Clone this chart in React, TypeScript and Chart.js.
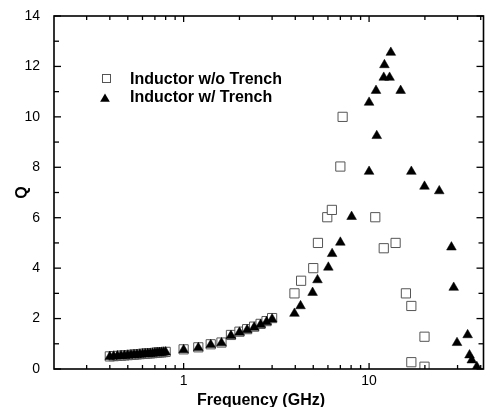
import React, { useEffect, useRef } from 'react';
import { Chart, registerables } from 'chart.js';

Chart.register(...registerables);

const FONT = '"Liberation Sans", Arial, Helvetica, sans-serif';

// Inductor w/o Trench (open squares)
const noTrenchFreq = [
  0.40, 0.42, 0.44, 0.46, 0.48, 0.50, 0.52, 0.54, 0.56, 0.58, 0.60, 0.62, 0.64, 0.66, 0.68, 0.70, 0.72, 0.74, 0.76, 0.78, 0.80,
  1.0, 1.2, 1.4, 1.6, 1.8, 2.0, 2.2, 2.4, 2.6, 2.8, 3.0,
  3.96, 4.3, 5.0, 5.3, 5.95, 6.3, 7.0, 7.2, 10.8, 12.0, 13.9, 15.8, 16.9, 19.9, 16.9, 19.9,
];
const noTrenchQ = [
  0.50, 0.51, 0.52, 0.53, 0.54, 0.55, 0.56, 0.57, 0.58, 0.59, 0.60, 0.61, 0.62, 0.62, 0.63, 0.64, 0.65, 0.66, 0.66, 0.67, 0.68,
  0.78, 0.86, 0.98, 1.05, 1.35, 1.48, 1.58, 1.68, 1.79, 1.90, 2.02,
  3.0, 3.5, 4.0, 5.0, 6.02, 6.31, 8.03, 10.0, 6.02, 4.79, 5.0, 3.0, 2.5, 1.28, 0.27, 0.09,
];

// Inductor w/ Trench (filled triangles)
const trenchFreq = [
  0.40, 0.42, 0.44, 0.46, 0.48, 0.50, 0.52, 0.54, 0.56, 0.58, 0.60, 0.62, 0.64, 0.66, 0.68, 0.70, 0.72, 0.74, 0.76, 0.78, 0.80,
  1.0, 1.2, 1.4, 1.6, 1.8, 2.0, 2.2, 2.4, 2.6, 2.8, 3.0,
  3.96, 4.27, 4.96, 5.27, 6.03, 6.32, 7.0, 8.05, 10.0, 11.0, 10.0, 10.9, 12.0, 12.9, 12.1, 13.1, 14.8,
  16.9, 19.9, 23.9, 27.8, 28.6, 29.8, 34.0, 34.8, 35.8, 38.1,
];
const trenchQ = [
  0.49, 0.50, 0.51, 0.52, 0.53, 0.54, 0.55, 0.56, 0.57, 0.58, 0.59, 0.60, 0.61, 0.61, 0.62, 0.63, 0.64, 0.65, 0.65, 0.66, 0.67,
  0.76, 0.84, 0.96, 1.03, 1.32, 1.45, 1.55, 1.65, 1.76, 1.87, 1.98,
  2.2, 2.5, 3.03, 3.53, 4.03, 4.57, 5.02, 6.04, 7.83, 9.25, 10.57, 11.04, 11.56, 11.56, 12.06, 12.55, 11.04,
  7.83, 7.24, 7.06, 4.83, 3.23, 1.04, 1.35, 0.55, 0.35, 0.09,
];

const seriesLabels = ['Inductor w/o Trench', 'Inductor w/ Trench'];

const xMajorTicks = [1, 10];
const xMinorTicks = [0.3, 0.4, 0.5, 0.6, 0.7, 0.8, 0.9, 2, 3, 4, 5, 6, 7, 8, 9, 20, 30, 40];
const yMajorTicks = [0, 2, 4, 6, 8, 10, 12, 14];
const yMinorTicks = [1, 3, 5, 7, 9, 11, 13];

const toPoints = (xs: number[], ys: number[]) => xs.map((x, i) => ({ x, y: ys[i] }));

const framePlugin = {
  id: 'frameTicks',
  afterDatasetsDraw(chart: any) {
    const { ctx, chartArea: a, scales } = chart;
    const xs = scales.x;
    const ys = scales.y;
    ctx.save();
    ctx.strokeStyle = '#000';
    ctx.lineWidth = 1.6;
    ctx.strokeRect(a.left, a.top, a.right - a.left, a.bottom - a.top);
    const line = (x1: number, y1: number, x2: number, y2: number) => {
      ctx.beginPath();
      ctx.moveTo(x1, y1);
      ctx.lineTo(x2, y2);
      ctx.stroke();
    };
    ctx.lineWidth = 1.3;
    xMajorTicks.forEach((v) => {
      const p = xs.getPixelForValue(v);
      line(p, a.bottom, p, a.bottom - 6);
      line(p, a.top, p, a.top + 6);
    });
    xMinorTicks.forEach((v) => {
      const p = xs.getPixelForValue(v);
      line(p, a.bottom, p, a.bottom - 4);
      line(p, a.top, p, a.top + 4);
    });
    yMajorTicks.forEach((v) => {
      const p = ys.getPixelForValue(v);
      line(a.left, p, a.left + 7, p);
      line(a.right, p, a.right - 7, p);
    });
    yMinorTicks.forEach((v) => {
      const p = ys.getPixelForValue(v);
      line(a.left, p, a.left + 5, p);
      line(a.right, p, a.right - 5, p);
    });

    // legend
    ctx.fillStyle = '#fff';
    ctx.strokeStyle = '#555';
    ctx.lineWidth = 1;
    ctx.fillRect(102, 74, 8, 8);
    ctx.strokeRect(102.5, 74.5, 8, 8);
    ctx.fillStyle = '#000';
    const r = 5.6;
    const cx = 105;
    const cy = 99;
    ctx.beginPath();
    ctx.moveTo(cx, cy - r);
    ctx.lineTo(cx + r * Math.sin(2 * Math.PI / 3), cy + r / 2);
    ctx.lineTo(cx - r * Math.sin(2 * Math.PI / 3), cy + r / 2);
    ctx.closePath();
    ctx.fill();
    ctx.font = `bold 16px ${FONT}`;
    ctx.textAlign = 'left';
    ctx.textBaseline = 'alphabetic';
    ctx.fillText(seriesLabels[0], 130, 83.5);
    ctx.fillText(seriesLabels[1], 130, 102);

    // x title
    ctx.textAlign = 'center';
    ctx.fillText('Frequency (GHz)', 261, 404.5);
    ctx.restore();
  },
};

export default function App() {
  const ref = useRef<HTMLCanvasElement>(null);
  useEffect(() => {
    if (!ref.current) return;
    const chart = new Chart(ref.current, {
      type: 'scatter',
      data: {
        datasets: [
          {
            label: seriesLabels[0],
            data: toPoints(noTrenchFreq, noTrenchQ),
            pointStyle: 'rect',
            pointRadius: 6.5,
            pointBackgroundColor: '#fff',
            pointBorderColor: '#555',
            pointBorderWidth: 1,
            showLine: false,
            order: 2,
          },
          {
            label: seriesLabels[1],
            data: toPoints(trenchFreq, trenchQ),
            pointStyle: 'triangle',
            pointRadius: 5.6,
            pointBackgroundColor: '#000',
            pointBorderColor: '#000',
            pointBorderWidth: 0.5,
            showLine: false,
            order: 1,
          },
        ],
      },
      options: {
        responsive: false,
        animation: false,
        events: [],
        layout: { padding: { top: 16, right: 1, left: 0, bottom: 0 } },
        plugins: { legend: { display: false }, tooltip: { enabled: false } },
        scales: {
          x: {
            type: 'logarithmic',
            min: 0.2,
            max: 41.4,
            grid: { display: false },
            border: { display: false },
            afterBuildTicks: (s: any) => {
              s.ticks = xMajorTicks.map((v) => ({ value: v }));
            },
            afterFit: (s: any) => {
              s.height = 38;
            },
            ticks: {
              callback: (v: any) => String(v),
              font: { family: FONT, size: 14 },
              color: '#000',
              padding: -4,
              maxRotation: 0,
              autoSkip: false,
            },
          },
          y: {
            type: 'linear',
            min: 0,
            max: 14,
            grid: { display: false },
            border: { display: false },
            afterFit: (s: any) => {
              s.width = 54;
            },
            ticks: {
              stepSize: 2,
              font: { family: FONT, size: 14 },
              color: '#000',
              padding: 6,
            },
            title: {
              display: true,
              text: 'Q',
              color: '#000',
              font: { family: FONT, size: 16, weight: 'bold' },
              padding: { top: 13, bottom: 0 },
            },
          },
        },
      },
      plugins: [framePlugin],
    });
    return () => chart.destroy();
  }, []);
  return (
    <div style={{ position: 'absolute', left: 0, top: 0, width: 491, height: 407 }}>
      <canvas ref={ref} width={491} height={407} style={{ display: 'block' }} />
    </div>
  );
}
